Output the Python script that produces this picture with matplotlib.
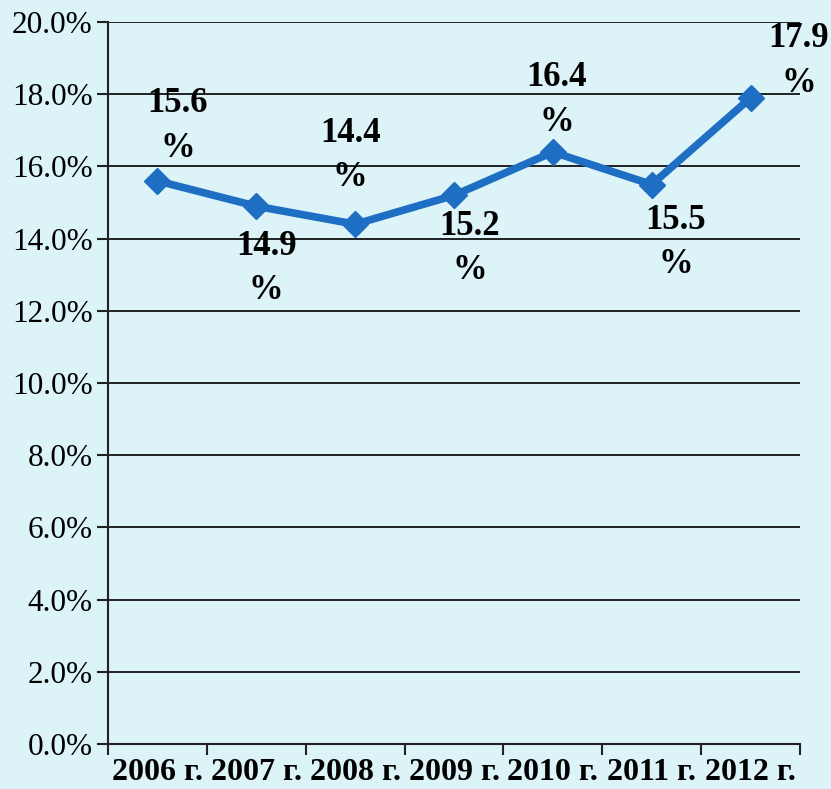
import numpy as np
import matplotlib.pyplot as plt
from matplotlib.ticker import FixedLocator, PercentFormatter

years = ['2006 г.', '2007 г.', '2008 г.', '2009 г.', '2010 г.', '2011 г.', '2012 г.']
share = [15.6, 14.9, 14.4, 15.2, 16.4, 15.5, 17.9]
# label offsets in pixels from each point
label_offsets = [(20, 55), (10, -62), (-5, 69), (16, -53), (4, 52), (24, -58), (48, 37)]

bg = '#dcf3f8'
blue = '#1e6ec4'

plt.rcParams['font.family'] = ['Liberation Serif', 'DejaVu Serif']

fig = plt.figure(figsize=(8.31, 7.89), dpi=100, facecolor=bg)
ax = fig.add_axes([0.130, 0.057, 0.8327, 0.915])
ax.set_facecolor(bg)

x = np.arange(len(years))
ax.plot(x, share, color=blue, lw=5.5, marker='D', markersize=13,
        markerfacecolor=blue, markeredgecolor=blue, zorder=3)

for xi, v, (dx, dy) in zip(x, share, label_offsets):
    ax.annotate('%.1f\n%%' % v, (xi, v), xytext=(dx, dy), textcoords='offset pixels',
                ha='center', va='center', multialignment='center',
                fontsize=25, fontweight='bold', linespacing=1.45, zorder=4)

ax.set_ylim(0, 20)
ax.set_xlim(-0.5, len(years) - 0.5)
ax.set_yticks(np.arange(0, 21, 2))
ax.yaxis.set_major_formatter(PercentFormatter(decimals=1))
ax.grid(axis='y', color='#111111', lw=1.3, zorder=1)

ax.xaxis.set_major_locator(FixedLocator(np.arange(-0.5, len(years), 1.0)))
ax.xaxis.set_minor_locator(FixedLocator(x))
ax.set_xticklabels([], minor=False)
ax.set_xticklabels(years, minor=True, fontsize=23, fontweight='bold')
ax.tick_params(axis='x', which='major', length=8, width=1.5, color='#222222')
ax.tick_params(axis='x', which='minor', length=0, pad=10)
ax.tick_params(axis='y', length=8, width=1.5, color='#222222', labelsize=22.5, pad=3)

for s in ['top', 'right']:
    ax.spines[s].set_visible(False)
for s in ['left', 'bottom']:
    ax.spines[s].set_linewidth(1.5)
    ax.spines[s].set_color('#222222')

plt.savefig('out.png', dpi=100, facecolor=bg)
